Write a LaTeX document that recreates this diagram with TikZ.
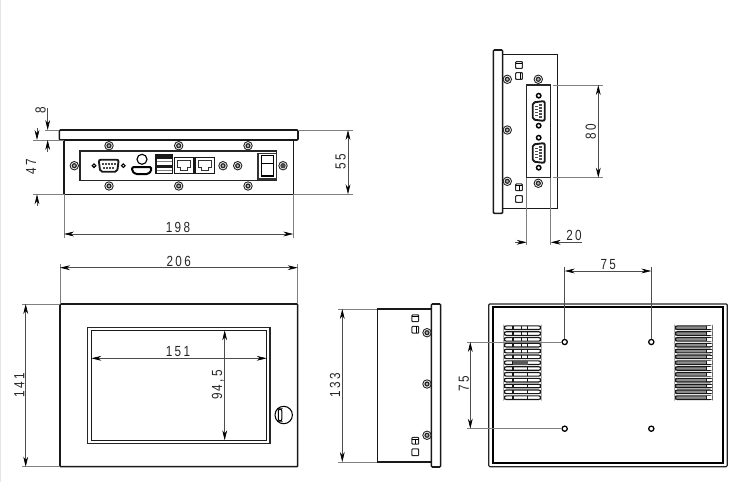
\documentclass[tikz,border=0pt]{standalone}
\usepackage{fontspec}
\setmainfont[FakeStretch=0.8,LetterSpace=16]{Liberation Sans}
\usetikzlibrary{arrows.meta}
\tikzset{
	part/.style={line width=1.15pt, color=black!90},
	thin part/.style={line width=0.8pt, color=black!85},
	dimline/.style={line width=0.45pt, color=black!70, >={Stealth[length=7.5pt,width=3.6pt,black]}},
	extline/.style={line width=0.45pt, color=black!50},
	dimlabel/.style={inner sep=0pt, color=black!85, font=\fontsize{11pt}{12pt}\selectfont}
}
\def\screw(#1,#2){\draw[line width=0.7pt, color=black!85] (#1,#2) circle (4.2); \draw[line width=0.9pt, color=black!85, fill=black!30] (#1,#2) circle (2);}
\def\smallbox(#1,#2){\draw[line width=0.8pt, color=black!85, rounded corners=0.6pt] ({#1-3.4},{#2-3.4}) rectangle ({#1+3.4},{#2+3.4});}
\def\dbport(#1,#2,#3){\begin{scope}[shift={(#1,#2)}, rotate=#3]
	\draw[line width=1.4pt, color=black!90, rounded corners=1.5pt, fill=white] (-10,-6) -- (10,-6) -- (8.5,6) -- (-8.5,6) -- cycle;
	\foreach \px in {-6,-3,0,3,6} {\fill[black!70] (\px-0.8,-3.2) rectangle (\px+0.8,-0.6);}
	\foreach \px in {-4.5,-1.5,1.5,4.5} {\fill[black!70] (\px-0.8,0.8) rectangle (\px+0.8,3.4);}
\end{scope}}
\def\rjport(#1,#2){\begin{scope}[shift={(#1,#2)}]
	\draw[line width=1.15pt, color=black!90] (0,0) rectangle (19.5,15.6);
	\draw[line width=0.75pt, color=black!80] (3,3) -- (16.5,3) -- (16.5,10) -- (13.5,10) -- (13.5,13) -- (6,13) -- (6,10) -- (3,10) -- cycle;
\end{scope}}

\begin{document}
\begin{tikzpicture}[x=0.75pt, y=-0.75pt]
		%%%%% START %%%%%
		\useasboundingbox (0, 0) rectangle (750, 482);
		\draw[line width=0.6pt, color=black!10] (0.5, 0) -- (0.5, 482);
		
		% connector side
		\draw[part, rounded corners=0.8pt] (59.3, 130) rectangle (298, 140);
		\draw[part] (64, 140) -- (64, 194.3) -- (293.3, 194.3) -- (293.3, 140);
		\draw[thin part] (80, 151) rectangle (276.7, 180.3);
		\foreach \sx in {109, 178.7, 248} {
			\screw(\sx,145.7)
			\screw(\sx,186)
		}
		\screw(74.3,165.7)
		\screw(283,165.7)
		\fill[black!70] (283, 165.7) circle (2.2);
		\screw(223,165.7)
		\screw(237.7,165.7)
		
		\dbport(108.7,165.7,0)
		\draw[line width=0.8pt] (94, 165.7) circle (1.8);
		\draw[line width=0.8pt] (123.3, 165.7) circle (1.8);
		
		\draw[line width=0.85pt] (142, 159.3) circle (5);
		\draw[line width=1.5pt, rounded corners=1pt] (132.2, 167) -- (151.2, 167) -- (151.2, 171) -- (148, 174) -- (135.4, 174) -- (132.2, 171) -- cycle;
		
		\fill[black!90] (155.3, 154) rectangle (173.3, 174.3);
		\fill[white] (157, 159) rectangle (172, 164.5);
		\fill[white] (157, 168) rectangle (172, 173);
		\fill[black!50] (157, 161) rectangle (172, 162);
		\fill[black!50] (157, 170) rectangle (172, 171);
		
		\rjport(174.3,157.7)
		\rjport(195,157.7)
		
		\draw[line width=1.1pt, color=black!80] (258, 153.3) rectangle (276.7, 179);
		\draw[line width=0.85pt] (261.3, 155.7) rectangle (273.3, 176);
		\draw[line width=0.85pt] (261.3, 163.3) -- (273.3, 163.3);
		
		% dimensions of connector side
		\draw[extline] (45, 130) -- (59.3, 130);
		\draw[extline] (33, 140) -- (64, 140);
		\draw[extline] (33, 194.3) -- (64, 194.3);
		\draw[dimline, ->] (47.7, 108) -- (47.7, 130);
		\draw[dimline, ->] (47.7, 152) -- (47.7, 140);
		\node[dimlabel, rotate=90] (eight) at (40.7, 110.7) {8};
		\draw[dimline, ->] (37, 128) -- (37, 140);
		\draw[dimline, ->] (37, 206) -- (37, 194.3);
		\node[dimlabel, rotate=90] (fortyseven) at (31, 167) {47};
		\draw[extline] (298, 130) -- (353, 130);
		\draw[extline] (293.3, 194.3) -- (353, 194.3);
		\draw[dimline, <->] (348, 130) -- (348, 194.3);
		\node[dimlabel, rotate=90] (fiftyfive) at (340.7, 162) {55};
		\draw[extline] (64, 194.3) -- (64, 238);
		\draw[extline] (293.3, 194.3) -- (293.3, 238);
		\draw[dimline, <->] (64, 234) -- (293.3, 234);
		\node[dimlabel] (width198) at (178, 227) {198};
		
		% serial side
		\draw[part, rounded corners=0.8pt] (493.3, 50) rectangle (502.7, 213.3);
		\draw[part] (502.7, 54.7) -- (557.3, 54.7) -- (557.3, 208.3) -- (502.7, 208.3);
		\draw[thin part] (526.7, 85) rectangle (550.7, 177.7);
		\screw(507.3,79.3)
		\screw(507.3,130)
		\screw(507.3,181.3)
		\screw(538.3,79.3)
		\screw(538.3,183.3)
		\smallbox(519,65)
		\draw[line width=0.7pt] (515.6, 63.5) -- (522.4, 63.5);
		\smallbox(519,76)
		\draw[line width=0.7pt] (520.5, 72.6) -- (520.5, 79.4);
		\smallbox(519,187.3)
		\draw[line width=0.7pt] (515.6, 185.8) -- (522.4, 185.8);
		\draw[line width=0.7pt] (519, 185.8) -- (519, 190.7);
		\smallbox(519,199)
		\foreach \py in {111, 153} {
			\dbport(538.7,\py,-90)
			\draw[line width=1.1pt, fill=white] (538.7, \py-15.3) circle (2.2);
			\draw[line width=1.1pt, fill=white] (538.7, \py+14.7) circle (2.2);
		}
		
		% dimensions of serial side
		\draw[extline] (553, 85) -- (603, 85);
		\draw[extline] (553, 177.7) -- (603, 177.7);
		\draw[dimline, <->] (598.3, 85) -- (598.3, 177.7);
		\node[dimlabel, rotate=90] (height80) at (590.7, 131.7) {80};
		\draw[extline] (526.7, 177.7) -- (526.7, 245);
		\draw[extline] (550.7, 177.7) -- (550.7, 245);
		\draw[dimline, ->] (515, 242.3) -- (526.7, 242.3);
		\draw[dimline, ->] (581.7, 242.3) -- (550.7, 242.3);
		\node[dimlabel] (width20) at (574, 235.7) {20};
		
		% front
		\draw[part, rounded corners=0.6pt] (60, 304) rectangle (297.7, 466.7);
		\draw[thin part] (87.7, 327.3) rectangle (270, 443.7);
		\draw[part] (91.3, 330.3) rectangle (266.7, 440.3);
		\draw[line width=0.8pt] (283.7, 415) circle (8.7);
		\draw[line width=0.8pt, rounded corners=1.5pt] (278.3, 409) rectangle (281.8, 421);
		
		\draw[extline] (60, 304) -- (60, 264);
		\draw[extline] (297.7, 304) -- (297.7, 264);
		\draw[dimline, <->] (60, 267.7) -- (297.7, 267.7);
		\node[dimlabel] (width206) at (178.7, 261.7) {206};
		\draw[extline] (22, 304) -- (60, 304);
		\draw[extline] (22, 466.7) -- (60, 466.7);
		\draw[dimline, <->] (25.7, 304) -- (25.7, 466.7);
		\node[dimlabel, rotate=90] (height141) at (19.3, 385) {141};
		\draw[dimline, <->] (91.3, 358.3) -- (266.7, 358.3);
		\node[dimlabel] (width151) at (178, 351.7) {151};
		\draw[dimline, <->] (224.7, 330.3) -- (224.7, 440.3);
		\node[dimlabel, rotate=90] (height945) at (218, 385) {94,5};
		
		% side
		\draw[part] (431.3, 309) -- (377.3, 309) -- (377.3, 462) -- (431.3, 462);
		\draw[part, rounded corners=0.8pt] (431.3, 304) rectangle (440.7, 467);
		\screw(427,332.7)
		\screw(427,384)
		\screw(427,435.3)
		\smallbox(415.3,318.3)
		\draw[line width=0.7pt] (411.9, 316.8) -- (418.7, 316.8);
		\smallbox(415.3,329.7)
		\draw[line width=0.7pt] (416.8, 326.3) -- (416.8, 333.1);
		\smallbox(415.3,440.7)
		\draw[line width=0.7pt] (411.9, 439.2) -- (418.7, 439.2);
		\draw[line width=0.7pt] (415.3, 439.2) -- (415.3, 444.1);
		\smallbox(415.3,452.3)
		
		\draw[extline] (338, 309) -- (377.3, 309);
		\draw[extline] (338, 462) -- (377.3, 462);
		\draw[dimline, <->] (342.3, 309) -- (342.3, 462);
		\node[dimlabel, rotate=90] (height133) at (335, 385) {133};
		
		% rear
		\draw[line width=0.85pt, color=black!85, rounded corners=0.8pt] (488.7, 304) rectangle (727.3, 466.7);
		\draw[line width=1.6pt] (492.7, 307.3) rectangle (723.3, 463.3);
		\foreach \hx in {564.7, 651.3} {
			\foreach \hy in {342, 428.7} {
				\draw[line width=0.95pt] (\hx, \hy) circle (2.6);
			}
		}
		\foreach \n in {0,...,12} {
			\pgfmathsetmacro{\vy}{327.7+5.83*\n}
			\draw[line width=0.85pt, color=black!90, rounded corners=1.5pt] (504.3, \vy-1.8) rectangle (540.7, \vy+1.8);
			\draw[line width=0.85pt, color=black!90, fill=black!45, rounded corners=1.5pt] (675.3, \vy-1.8) rectangle (712, \vy+1.8);
			\fill[white] (706.7, \vy-1.3) rectangle (711.5, \vy+1.3);
			\draw[line width=0.85pt, color=black!90] (706.7, \vy-1.8) -- (706.7, \vy+1.8);
			\draw[line width=0.85pt, color=black!90] (513, \vy-1.8) -- (513, \vy+1.8);
			\draw[line width=0.85pt, color=black!90] (527.7, \vy-1.8) -- (527.7, \vy+1.8);
		}
		\foreach \n in {0,...,5} {
			\pgfmathsetmacro{\vy}{327.7+5.83*\n}
			\draw[line width=0.85pt, color=black!90] (521.5, \vy-1.8) -- (521.5, \vy+1.8);
		}
		\fill[black!65] (513, 360.9) rectangle (527.7, 364.5);
		
		\draw[extline, color=black!70] (564.7, 339.4) -- (564.7, 267);
		\draw[extline, color=black!70] (651.3, 339.4) -- (651.3, 267);
		\draw[dimline, <->] (564.7, 271) -- (651.3, 271);
		\node[dimlabel] (width75) at (608.3, 265) {75};
		\draw[extline] (467, 342) -- (562, 342);
		\draw[extline] (467, 428.7) -- (562, 428.7);
		\draw[dimline, <->] (470.3, 342) -- (470.3, 428.7);
		\node[dimlabel, rotate=90] (height75) at (464, 384) {75};
		
		%%%%% END %%%%%
\end{tikzpicture}
\end{document}
